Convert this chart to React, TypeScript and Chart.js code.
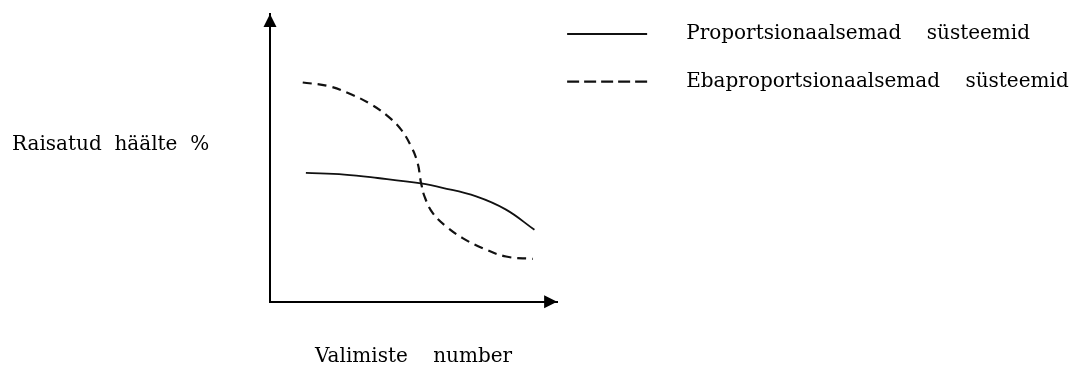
import { useEffect, useRef } from 'react';
import { Chart, registerables } from 'chart.js';

Chart.register(...registerables);

// ---- data (schematic values, arbitrary 0–100 units) ----
const seriesLabels = ['Proportsionaalsemad    süsteemid', 'Ebaproportsionaalsemad    süsteemid'];
const proportionalX = [12.5, 25.9, 37.5, 52.6, 60.1, 71.8, 82.2, 92.1];
const proportionalY = [44.8, 44.2, 43.0, 41.1, 39.6, 36.6, 32.0, 25.0];
const disproportionalX = [11.4, 20.1, 28.2, 35.2, 41.0, 45.6, 49.1, 51.4, 52.4, 52.6, 53.8, 56.7, 61.3, 67.1, 74.1, 82.2, 91.5];
const disproportionalY = [76.2, 75.0, 72.1, 68.6, 64.5, 59.9, 54.1, 48.3, 42.4, 41.3, 36.6, 30.8, 26.2, 22.1, 18.6, 15.7, 14.9];
const xAxisTitle = 'Valimiste    number';
const yAxisTitle = 'Raisatud  häälte  %';

const FONT_FAMILY = "'DejaVu Serif', serif";
const FONT_SIZE = 20;
const LEGEND_GAP = '\u2002   ';
const LEGEND_PAD = 10;
const LEGEND_LINE = 80;
const TARGET_AREA_RIGHT = 556.7;
const CANVAS_W = 1087;
const CANVAS_H = 369;

const toPoints = (xs: number[], ys: number[]) => xs.map((x, i) => ({ x, y: ys[i] }));

const axisDecorations = {
  id: 'axisDecorations',
  afterDraw(chart: any) {
    const { ctx, chartArea } = chart;
    const { left, top, right, bottom } = chartArea;
    ctx.save();
    ctx.fillStyle = '#000';
    // arrow head on the y axis
    ctx.beginPath();
    ctx.moveTo(left, top);
    ctx.lineTo(left - 6.5, top + 13);
    ctx.lineTo(left + 6.5, top + 13);
    ctx.closePath();
    ctx.fill();
    // arrow head on the x axis
    ctx.beginPath();
    ctx.moveTo(right, bottom);
    ctx.lineTo(right - 13, bottom - 6.5);
    ctx.lineTo(right - 13, bottom + 6.5);
    ctx.closePath();
    ctx.fill();
    // horizontal y-axis title
    ctx.font = `${FONT_SIZE}px ${FONT_FAMILY}`;
    ctx.textAlign = 'left';
    ctx.textBaseline = 'alphabetic';
    ctx.fillText(yAxisTitle, 12, 150);
    ctx.restore();
  },
};

export default function App() {
  const canvasRef = useRef<HTMLCanvasElement | null>(null);

  useEffect(() => {
    if (!canvasRef.current) return;

    // measure legend text so the legend box (which clips) is wide enough
    const mctx = document.createElement('canvas').getContext('2d')!;
    mctx.font = `${FONT_SIZE}px ${FONT_FAMILY}`;
    const textW = Math.max(...seriesLabels.map((s) => mctx.measureText(LEGEND_GAP + s).width));
    const legendW = Math.ceil(LEGEND_PAD + LEGEND_LINE + FONT_SIZE / 2 + textW + 10);
    const padRight = CANVAS_W - TARGET_AREA_RIGHT - legendW;

    const chart = new Chart(canvasRef.current, {
      type: 'line',
      data: {
        datasets: [
          {
            label: seriesLabels[0],
            data: toPoints(proportionalX, proportionalY),
            borderColor: '#111',
            borderWidth: 1.8,
            pointRadius: 0,
            fill: false,
            tension: 0.4,
          },
          {
            label: seriesLabels[1],
            data: toPoints(disproportionalX, disproportionalY),
            borderColor: '#111',
            borderWidth: 2.2,
            borderDash: [9, 6],
            pointRadius: 0,
            fill: false,
            tension: 0.4,
          },
        ],
      },
      options: {
        animation: false,
        responsive: false,
        devicePixelRatio: 1,
        layout: { padding: { left: 270, top: 14, right: padRight, bottom: 0 } },
        scales: {
          x: {
            type: 'linear',
            min: 0,
            max: 100,
            grid: { display: false, drawTicks: false },
            border: { display: true, color: '#000', width: 2 },
            ticks: { display: false },
            title: {
              display: true,
              text: xAxisTitle,
              color: '#000',
              font: { family: FONT_FAMILY, size: FONT_SIZE },
              padding: { top: 43.3, bottom: 0 },
            },
          },
          y: {
            type: 'linear',
            min: 0,
            max: 100,
            grid: { display: false, drawTicks: false },
            border: { display: true, color: '#000', width: 2 },
            ticks: { display: false },
          },
        },
        plugins: {
          tooltip: { enabled: false },
          legend: {
            position: 'right',
            align: 'start',
            maxWidth: legendW,
            labels: {
              usePointStyle: true,
              pointStyle: 'line',
              pointStyleWidth: LEGEND_LINE,
              padding: LEGEND_PAD,
              color: '#000',
              font: { family: FONT_FAMILY, size: FONT_SIZE, lineHeight: 1.885 },
              generateLabels: (c: any) =>
                Chart.defaults.plugins.legend.labels.generateLabels(c).map((item: any, i: number) => ({
                  ...item,
                  text: [LEGEND_GAP + item.text],
                  pointStyle: 'line',
                  lineDash: i === 1 ? [12, 5] : [],
                })),
            },
          },
        },
      },
      plugins: [axisDecorations],
    });
    return () => chart.destroy();
  }, []);

  return (
    <div style={{ position: 'absolute', left: 0, top: 0, width: CANVAS_W, height: CANVAS_H, background: '#fff' }}>
      <canvas ref={canvasRef} width={CANVAS_W} height={CANVAS_H} />
    </div>
  );
}
